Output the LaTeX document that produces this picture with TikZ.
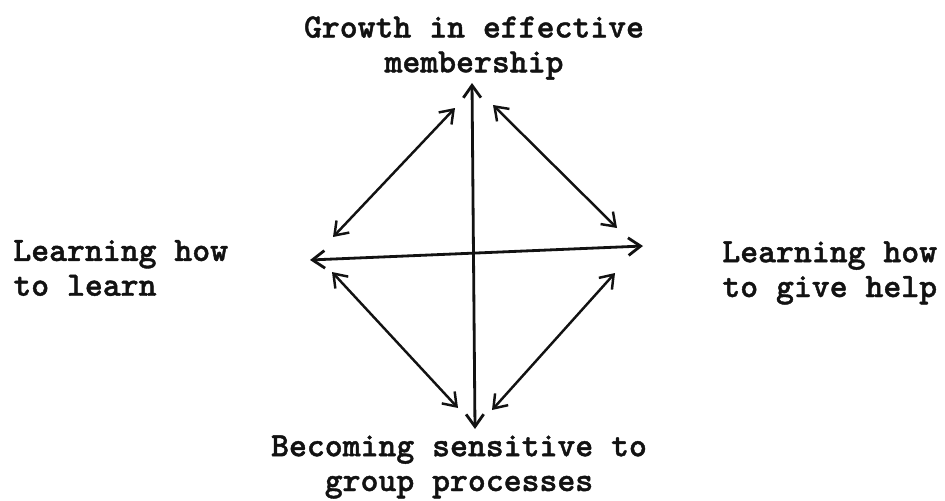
\documentclass[tikz,border=0pt]{standalone}
\usepackage{fontspec}
\setmonofont{lmmono10-regular.otf}[BoldFont=lmmonolt10-bold.otf, BoldFeatures={FakeBold=1.2}]
\usetikzlibrary{arrows.meta}
\definecolor{inkcol}{HTML}{121212}

\begin{document}
\begin{tikzpicture}[x=0.02cm, y=-0.02cm, >={Straight Barb[length=7pt, width=10pt]},
  lbl/.style={inkcol, font=\ttfamily\bfseries\fontsize{19.4}{19.8}\selectfont, inner sep=0pt},
  axis/.style={<->, inkcol, line width=1.6pt},
  link/.style={<->, inkcol, line width=1.4pt}]
\useasboundingbox (0,0) rectangle (945,500);
% the four aims
\node[lbl, align=center] (growth) at (474,48) {Growth in effective\\membership};
\node[lbl, align=center] (sens) at (459,467) {Becoming sensitive to\\group processes};
\node[lbl, align=left, anchor=west] (learn) at (13,268) {Learning how\\to learn};
\node[lbl, align=left, anchor=west] (help) at (722,273) {Learning how\\to give help};
% tips of the cross
\coordinate (gTip) at (472,83);
\coordinate (sTip) at (475,429);
\coordinate (lTip) at (310,260);
\coordinate (hTip) at (643,246);
\draw[axis] (sTip) -- (gTip);
\draw[axis] (lTip) -- (hTip);
% ends of the diagonal links
\coordinate (glG) at (455,108);
\coordinate (glL) at (333,237);
\coordinate (ghG) at (493,105);
\coordinate (ghH) at (617,228);
\coordinate (slS) at (458,408);
\coordinate (slL) at (332,272);
\coordinate (shS) at (492,410);
\coordinate (shH) at (615,273);
\draw[link] (glL) -- (glG);
\draw[link] (ghG) -- (ghH);
\draw[link] (slL) -- (slS);
\draw[link] (shH) -- (shS);
\end{tikzpicture}
\end{document}
